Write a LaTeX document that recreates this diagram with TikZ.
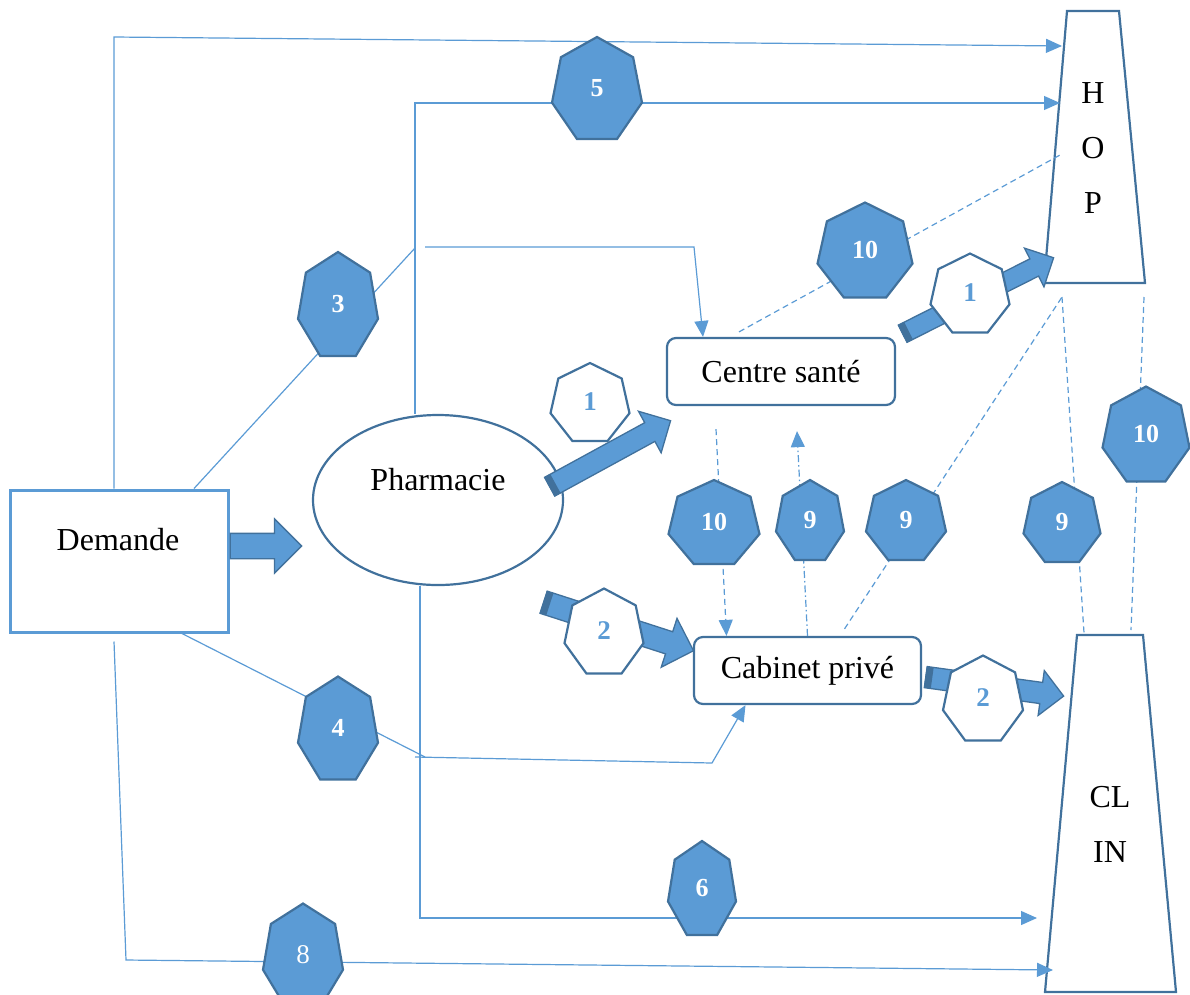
\documentclass[tikz,border=0pt]{standalone}
\usepackage{fontspec}
\setmainfont{Liberation Serif}
\usetikzlibrary{shapes.geometric,shapes.arrows,arrows.meta,calc}
\definecolor{accent}{HTML}{5B9BD5}
\definecolor{edgeblue}{HTML}{41719C}

% heptagon: name, centre, width, height, shape style, text style, text
\newcommand{\hept}[7]{%
  \begin{scope}[shift={#2}]
    \draw[#5] ({#3/1.95*cos(-90)},{#4*(sin(-90)/1.901+0.026)})
      \foreach \k in {1,...,6}{ -- ({#3/1.95*cos(-90+\k*360/7)},{#4*(sin(-90+\k*360/7)/1.901+0.026)}) } -- cycle;
  \end{scope}
  \node[#6] (#1) at #2 {#7};}

% block arrow: name, from, to, half shaft, head extend
\newcommand{\blockarrow}[5]{%
  \path let \p1=#2, \p2=#3,
    \n1={atan2(\y2-\y1,\x2-\x1)}, \n2={veclen(\x2-\x1,\y2-\y1)} in
    node[blockarr, minimum height=\n2, inner ysep=#4, single arrow head extend=#5, rotate=\n1, anchor=tail] (#1) at (\p1) {};}

% dark tail face: name, from, to, height
\newcommand{\tailface}[4]{%
  \path #2 -- node[capface, sloped, pos=0, anchor=west, minimum height=#4] (#1) {} #3;}

\begin{document}
\begin{tikzpicture}[x=1pt,y=-1pt,
  link/.style={accent, line width=1.2pt},
  dashlink/.style={accent, line width=1.2pt, dash pattern=on 6pt off 4pt},
  dotdashlink/.style={accent, line width=1.2pt, dash pattern=on 7pt off 3pt on 1.5pt off 3pt},
  arrowend/.style={-{Triangle[length=16pt,width=14pt]}},
  lbl/.style={font=\fontsize{32}{38}\selectfont, inner sep=0pt},
  box/.style={draw=edgeblue, line width=2.2pt, fill=white, rounded corners=9pt, minimum width=228pt, minimum height=67pt, inner sep=0pt, font=\fontsize{32}{38}\selectfont},
  heptdark/.style={draw=edgeblue, fill=accent, line width=2.2pt},
  heptwhite/.style={draw=edgeblue, fill=white, line width=2.2pt},
  numdark/.style={text=white, font=\fontsize{26}{30}\selectfont\bfseries, inner sep=0pt},
  numwhite/.style={text=accent, font=\fontsize{27}{30}\selectfont\bfseries, inner sep=0pt},
  numthin/.style={text=white, font=\fontsize{27}{30}\selectfont, inner sep=0pt},
  blockarr/.style={single arrow, draw=edgeblue, fill=accent, line width=1.3pt, inner xsep=0pt, single arrow head indent=0pt},
  capface/.style={rectangle, fill=edgeblue, inner sep=0pt, minimum width=7pt}
]
\useasboundingbox (0,0) rectangle (1190,994);

% main shapes
\node[draw=accent, line width=3pt, fill=white, minimum width=218pt, minimum height=142pt, inner sep=0pt] (dem) at (119,561) {};
\node[lbl] (demtxt) at (118,540) {Demande};
\node[ellipse, draw=edgeblue, line width=2.2pt, fill=white, minimum width=250pt, minimum height=170pt, inner sep=0pt] (pha) at (438,500) {};
\node[lbl] (phatxt) at (438,480) {Pharmacie};
\node[box] (cen) at (781,371.5) {Centre santé};
\node[box, minimum width=227pt] (cab) at (807.5,670.5) {Cabinet privé};
\draw[edgeblue, line width=2.2pt] (1067,11) -- (1119,11) -- (1145,283) -- (1044,283) -- cycle;
\node[lbl, align=center, font=\fontsize{32}{55}\selectfont] (hop) at (1093,148) {H\\O\\P};
\draw[edgeblue, line width=2.2pt] (1077,635) -- (1143,635) -- (1176,992) -- (1045,992) -- cycle;
\node[lbl, align=center, font=\fontsize{32}{55}\selectfont] (clin) at (1110,824.5) {CL\\IN};

% free ends and bends
\coordinate (hopA) at (1062,46);
\coordinate (hopB) at (1060,103);
\coordinate (hopC) at (1060,155);
\coordinate (hopD) at (1062,297);
\coordinate (hopE) at (1144,297);
\coordinate (hopF) at (1053,258);
\coordinate (clinA) at (1084,633);
\coordinate (clinB) at (1131,630);
\coordinate (clinC) at (1063,696);
\coordinate (clinD) at (1037,918);
\coordinate (clinE) at (1053,970);
\coordinate (bA) at (114,37);
\coordinate (bB) at (415,248);
\coordinate (bC) at (415,103);
\coordinate (bD) at (425,247);
\coordinate (bE) at (694,247);
\coordinate (bF) at (425,757);
\coordinate (bH) at (415,757);
\coordinate (bG) at (712,763);
\coordinate (bI) at (420,918);
\coordinate (bJ) at (126,960);
\coordinate (aTip) at (301,546);
\coordinate (a2e) at (670,421);
\coordinate (a4s) at (543,602);

% thin links
\draw[link,arrowend] ([xshift=-5pt]dem.north) -- (bA) -- (hopA);
\draw[link] ([xshift=75pt]dem.north) -- (bB);
\draw[link,arrowend] ([xshift=-23pt]pha.north) -- (bC) -- (hopB);
\draw[link,arrowend] (bD) -- (bE) -- ([xshift=-78pt]cen.north);
\draw[link] ([xshift=63pt]dem.south) -- (bF);
\draw[link,arrowend] (bH) -- (bG) -- ([xshift=-62pt]cab.south);
\draw[link,arrowend] ([xshift=-18pt]pha.south) -- (bI) -- (clinD);
\draw[link,arrowend] ([xshift=-5pt,yshift=-8pt]dem.south) -- (bJ) -- (clinE);

% dashed links
\draw[dashlink] ([xshift=-42pt,yshift=5pt]cen.north) -- (hopC);
\draw[dashlink,arrowend] ([xshift=-65pt,yshift=-23pt]cen.south) -- ([xshift=-81pt]cab.north);
\draw[dotdashlink,arrowend] (cab.north) -- ([xshift=16pt,yshift=-25pt]cen.south);
\draw[dashlink] ([xshift=37pt,yshift=7pt]cab.north) -- (hopD);
\draw[dashlink] (hopD) -- (clinA);
\draw[dashlink] (hopE) -- (clinB);

% block arrows under the heptagons
\blockarrow{arA}{([yshift=15pt]dem.east)}{(aTip)}{12pt}{14.5pt}
\blockarrow{arC}{([xshift=6pt,yshift=37.5pt]cen.east)}{(hopF)}{9pt}{12pt}
\tailface{tfC}{([xshift=6pt,yshift=37.5pt]cen.east)}{(hopF)}{20pt}
\blockarrow{arD}{(a4s)}{([yshift=20pt]cab.west)}{11pt}{14pt}
\tailface{tfD}{(a4s)}{([yshift=20pt]cab.west)}{23pt}
\blockarrow{arE}{([xshift=3pt,yshift=-6.5pt]cab.east)}{(clinC)}{10pt}{12pt}
\tailface{tfE}{([xshift=3pt,yshift=-6.5pt]cab.east)}{(clinC)}{21pt}

% heptagons
\hept{h5}{(597,88)}{90}{102}{heptdark}{numdark}{5}
\hept{h3}{(338,304)}{80}{104}{heptdark}{numdark}{3}
\hept{h10a}{(865,250)}{95}{95}{heptdark}{numdark}{10}
\hept{h1a}{(970,293)}{79}{79}{heptwhite}{numwhite}{1}
\hept{h1b}{(590,402)}{79}{78}{heptwhite}{numwhite}{1}
\hept{h2a}{(604,631)}{79}{85}{heptwhite}{numwhite}{2}
\hept{h2b}{(983,698)}{80}{85}{heptwhite}{numwhite}{2}
\hept{h10b}{(714,522)}{91}{84}{heptdark}{numdark}{10}
\hept{h9a}{(810,520)}{68}{80}{heptdark}{numdark}{9}
\hept{h9b}{(906,520)}{80}{80}{heptdark}{numdark}{9}
\hept{h9c}{(1062,522)}{77}{80}{heptdark}{numdark}{9}
\hept{h10c}{(1146,434)}{87}{95}{heptdark}{numdark}{10}
\hept{h4}{(338,728)}{80}{103}{heptdark}{numdark}{4}
\hept{h6}{(702,888)}{68}{94}{heptdark}{numdark}{6}
\hept{h8}{(303,955)}{80}{103}{heptdark}{numthin}{8}

% block arrow over its heptagon
\blockarrow{arB}{([xshift=-15pt,yshift=13pt]pha.east)}{(a2e)}{10pt}{13pt}
\tailface{tfB}{([xshift=-15pt,yshift=13pt]pha.east)}{(a2e)}{22pt}
\end{tikzpicture}
\end{document}
